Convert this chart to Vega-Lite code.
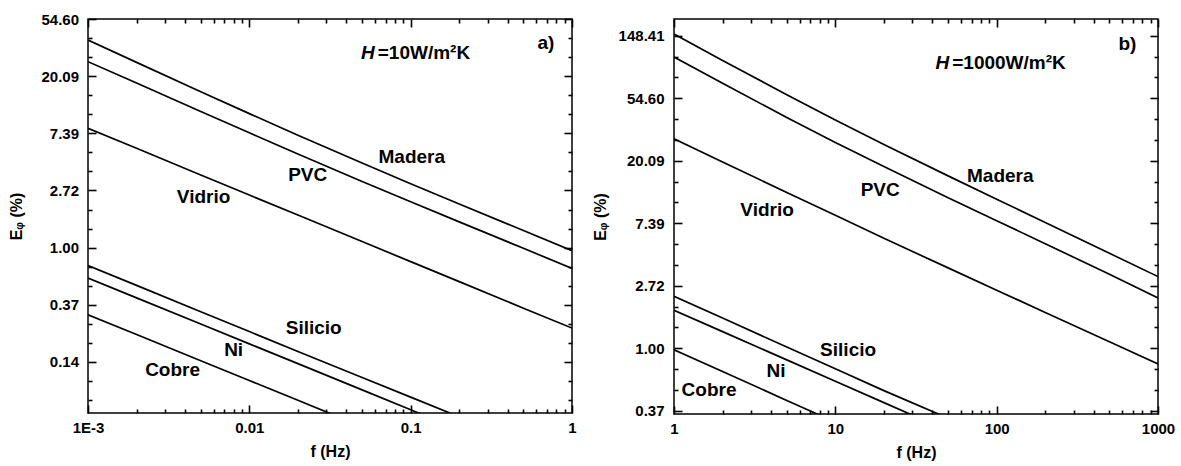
{
  "$schema": "https://vega.github.io/schema/vega-lite/v6.json",
  "padding": {"left": 8, "top": 11, "right": 5, "bottom": 2},
  "spacing": 14,
  "config": {
    "view": {"stroke": "black", "strokeWidth": 1.5},
    "axis": {"grid": false, "domain": false, "tickColor": "black", "tickWidth": 1.6, "labelFont": "Liberation Sans", "labelFontWeight": "bold", "labelFontSize": 15, "labelColor": "black", "titleFont": "Liberation Sans", "titleFontWeight": "bold", "titleFontSize": 16, "titleColor": "black", "labelFlush": false, "labelOverlap": false}
  },
  "datasets": {
    "left": [
      {"material": "Madera", "f": 0.001, "E": 37.8}, {"material": "Madera", "f": 0.002, "E": 25.57}, {"material": "Madera", "f": 0.005, "E": 15.29}, {"material": "Madera", "f": 0.01, "E": 10.43}, {"material": "Madera", "f": 0.02, "E": 7.148}, {"material": "Madera", "f": 0.05, "E": 4.389}, {"material": "Madera", "f": 0.1, "E": 3.061}, {"material": "Madera", "f": 0.2, "E": 2.147}, {"material": "Madera", "f": 0.5, "E": 1.349}, {"material": "Madera", "f": 1, "E": 0.949},
      {"material": "PVC", "f": 0.001, "E": 25.88}, {"material": "PVC", "f": 0.002, "E": 17.83}, {"material": "PVC", "f": 0.005, "E": 10.82}, {"material": "PVC", "f": 0.01, "E": 7.454}, {"material": "PVC", "f": 0.02, "E": 5.146}, {"material": "PVC", "f": 0.05, "E": 3.181}, {"material": "PVC", "f": 0.1, "E": 2.231}, {"material": "PVC", "f": 0.2, "E": 1.57}, {"material": "PVC", "f": 0.5, "E": 0.988}, {"material": "PVC", "f": 1, "E": 0.696},
      {"material": "Vidrio", "f": 0.001, "E": 8.08}, {"material": "Vidrio", "f": 0.002, "E": 5.685}, {"material": "Vidrio", "f": 0.005, "E": 3.564}, {"material": "Vidrio", "f": 0.01, "E": 2.508}, {"material": "Vidrio", "f": 0.02, "E": 1.768}, {"material": "Vidrio", "f": 0.05, "E": 1.112}, {"material": "Vidrio", "f": 0.1, "E": 0.783}, {"material": "Vidrio", "f": 0.2, "E": 0.552}, {"material": "Vidrio", "f": 0.5, "E": 0.3467}, {"material": "Vidrio", "f": 1, "E": 0.2448},
      {"material": "Silicio", "f": 0.001, "E": 0.731}, {"material": "Silicio", "f": 0.002, "E": 0.5164}, {"material": "Silicio", "f": 0.005, "E": 0.3261}, {"material": "Silicio", "f": 0.01, "E": 0.2303}, {"material": "Silicio", "f": 0.02, "E": 0.1623}, {"material": "Silicio", "f": 0.05, "E": 0.103}, {"material": "Silicio", "f": 0.1, "E": 0.0731}, {"material": "Silicio", "f": 0.2, "E": 0.0518},
      {"material": "Ni", "f": 0.001, "E": 0.5867}, {"material": "Ni", "f": 0.002, "E": 0.415}, {"material": "Ni", "f": 0.005, "E": 0.2625}, {"material": "Ni", "f": 0.01, "E": 0.1857}, {"material": "Ni", "f": 0.02, "E": 0.1314}, {"material": "Ni", "f": 0.05, "E": 0.083}, {"material": "Ni", "f": 0.1, "E": 0.0586}, {"material": "Ni", "f": 0.2, "E": 0.0414},
      {"material": "Cobre", "f": 0.001, "E": 0.3089}, {"material": "Cobre", "f": 0.002, "E": 0.2185}, {"material": "Cobre", "f": 0.005, "E": 0.1382}, {"material": "Cobre", "f": 0.01, "E": 0.0978}, {"material": "Cobre", "f": 0.02, "E": 0.0692}, {"material": "Cobre", "f": 0.05, "E": 0.0437}
    ],
    "right": [
      {"material": "Madera", "f": 1, "E": 152.5}, {"material": "Madera", "f": 2, "E": 99.96}, {"material": "Madera", "f": 5, "E": 57.73}, {"material": "Madera", "f": 10, "E": 38.58}, {"material": "Madera", "f": 20, "E": 26.07}, {"material": "Madera", "f": 50, "E": 15.75}, {"material": "Madera", "f": 100, "E": 10.85}, {"material": "Madera", "f": 200, "E": 7.472}, {"material": "Madera", "f": 500, "E": 4.565}, {"material": "Madera", "f": 1000, "E": 3.144},
      {"material": "PVC", "f": 1, "E": 105.5}, {"material": "PVC", "f": 2, "E": 69.2}, {"material": "PVC", "f": 5, "E": 40.1}, {"material": "PVC", "f": 10, "E": 26.92}, {"material": "PVC", "f": 20, "E": 18.28}, {"material": "PVC", "f": 50, "E": 11.11}, {"material": "PVC", "f": 100, "E": 7.69}, {"material": "PVC", "f": 200, "E": 5.323}, {"material": "PVC", "f": 500, "E": 3.262}, {"material": "PVC", "f": 1000, "E": 2.233},
      {"material": "Vidrio", "f": 1, "E": 28.56}, {"material": "Vidrio", "f": 2, "E": 19.67}, {"material": "Vidrio", "f": 5, "E": 12.08}, {"material": "Vidrio", "f": 10, "E": 8.385}, {"material": "Vidrio", "f": 20, "E": 5.803}, {"material": "Vidrio", "f": 50, "E": 3.614}, {"material": "Vidrio", "f": 100, "E": 2.529}, {"material": "Vidrio", "f": 200, "E": 1.773}, {"material": "Vidrio", "f": 500, "E": 1.108}, {"material": "Vidrio", "f": 1000, "E": 0.7766},
      {"material": "Silicio", "f": 1, "E": 2.294}, {"material": "Silicio", "f": 2, "E": 1.619}, {"material": "Silicio", "f": 5, "E": 1.019}, {"material": "Silicio", "f": 10, "E": 0.7192}, {"material": "Silicio", "f": 20, "E": 0.5074}, {"material": "Silicio", "f": 50, "E": 0.3263},
      {"material": "Ni", "f": 1, "E": 1.834}, {"material": "Ni", "f": 2, "E": 1.304}, {"material": "Ni", "f": 5, "E": 0.8293}, {"material": "Ni", "f": 10, "E": 0.5898}, {"material": "Ni", "f": 20, "E": 0.4188}, {"material": "Ni", "f": 50, "E": 0.2663},
      {"material": "Cobre", "f": 1, "E": 0.9763}, {"material": "Cobre", "f": 2, "E": 0.6888}, {"material": "Cobre", "f": 5, "E": 0.4338}, {"material": "Cobre", "f": 10, "E": 0.3061}
    ],
    "leftLabels": [
      {"label": "Madera", "f": 0.1016, "E": 4.891}, {"label": "PVC", "f": 0.02299, "E": 3.571}, {"label": "Vidrio", "f": 0.005206, "E": 2.4305},
      {"label": "Silicio", "f": 0.02506, "E": 0.2461}, {"label": "Ni", "f": 0.007992, "E": 0.1675}, {"label": "Cobre", "f": 0.003344, "E": 0.1181}
    ],
    "rightLabels": [
      {"label": "Madera", "f": 105.3, "E": 15.73}, {"label": "PVC", "f": 18.96, "E": 12.6}, {"label": "Vidrio", "f": 3.775, "E": 9.127},
      {"label": "Silicio", "f": 12.0, "E": 0.9716}, {"label": "Ni", "f": 4.293, "E": 0.6944}, {"label": "Cobre", "f": 1.649, "E": 0.5123}
    ]
  },
  "hconcat": [
    {
      "width": 484, "height": 394,
      "resolve": {"axis": {"x": "independent", "y": "independent"}},
      "layer": [
        {
          "data": {"name": "left"},
          "mark": {"type": "line", "color": "black", "strokeWidth": 1.7, "clip": true},
          "encoding": {
            "x": {"field": "f", "type": "quantitative", "scale": {"type": "log", "domain": [0.001, 1], "nice": false},
              "axis": {"orient": "bottom", "values": [0.001, 0.01, 0.1, 1], "labelExpr": "datum.value < 0.005 ? '1E-3' : datum.value < 0.05 ? '0.01' : datum.value < 0.5 ? '0.1' : '1'", "tickSize": 8, "offset": -8, "labelPadding": 7, "title": "f (Hz)", "titlePadding": 8}},
            "y": {"field": "E", "type": "quantitative", "scale": {"type": "log", "domain": [0.0554, 54.6], "nice": false},
              "axis": {"orient": "left", "values": [0.1353352832, 0.3678794412, 1, 2.718281828, 7.389056099, 20.08553692, 54.59815003], "format": ".2f", "tickSize": 8, "offset": -8, "labelPadding": 9.5, "title": "Eᵩ (%)", "titlePadding": 16}},
            "detail": {"field": "material"}
          }
        },
        {
          "data": {"name": "leftLabels"},
          "mark": {"type": "text", "font": "Liberation Sans", "fontWeight": "bold", "fontSize": 19, "color": "black", "baseline": "middle"},
          "encoding": {
            "x": {"field": "f", "type": "quantitative", "scale": {"type": "log", "domain": [0.001, 1], "nice": false},
              "axis": {"orient": "top", "values": [0.001, 0.01, 0.1, 1], "labels": false, "tickSize": 8, "offset": -8, "title": null}},
            "y": {"field": "E", "type": "quantitative", "scale": {"type": "log", "domain": [0.0554, 54.6], "nice": false},
              "axis": {"orient": "right", "values": [0.1353352832, 0.3678794412, 1, 2.718281828, 7.389056099, 20.08553692, 54.59815003], "labels": false, "tickSize": 8, "offset": -8, "title": null}},
            "text": {"field": "label"}
          }
        },
        {
          "data": {"values": [{"t": "H", "f": 0.0599, "E": 30.13}]},
          "mark": {"type": "text", "font": "Liberation Sans", "fontWeight": "bold", "fontStyle": "italic", "fontSize": 19, "color": "black", "align": "right", "baseline": "middle"},
          "encoding": {
            "x": {"field": "f", "type": "quantitative", "scale": {"type": "log", "domain": [0.001, 1], "nice": false},
              "axis": {"orient": "bottom", "values": [0.002, 0.003, 0.004, 0.005, 0.006, 0.007, 0.008, 0.009, 0.02, 0.03, 0.04, 0.05, 0.06, 0.07, 0.08, 0.09, 0.2, 0.3, 0.4, 0.5, 0.6, 0.7, 0.8, 0.9], "labels": false, "tickSize": 4, "offset": -4, "title": null}},
            "y": {"field": "E", "type": "quantitative", "scale": {"type": "log", "domain": [0.0554, 54.6], "nice": false},
              "axis": {"orient": "left", "values": [0.069483, 0.096972, 0.188876, 0.263597, 0.513417, 0.716531, 1.395612, 1.947734, 3.793668, 5.29449, 10.312259, 14.391916, 28.031624, 39.121284], "labels": false, "tickSize": 4, "offset": -4, "title": null}},
            "text": {"field": "t"}
          }
        },
        {
          "data": {"values": [{"t": "=10W/m²K", "f": 0.0599, "E": 30.13}]},
          "mark": {"type": "text", "font": "Liberation Sans", "fontWeight": "bold", "fontSize": 19, "color": "black", "align": "left", "baseline": "middle", "dx": 3},
          "encoding": {
            "x": {"field": "f", "type": "quantitative", "scale": {"type": "log", "domain": [0.001, 1], "nice": false},
              "axis": {"orient": "top", "values": [0.002, 0.003, 0.004, 0.005, 0.006, 0.007, 0.008, 0.009, 0.02, 0.03, 0.04, 0.05, 0.06, 0.07, 0.08, 0.09, 0.2, 0.3, 0.4, 0.5, 0.6, 0.7, 0.8, 0.9], "labels": false, "tickSize": 4, "offset": -4, "title": null}},
            "y": {"field": "E", "type": "quantitative", "scale": {"type": "log", "domain": [0.0554, 54.6], "nice": false},
              "axis": {"orient": "right", "values": [0.069483, 0.096972, 0.188876, 0.263597, 0.513417, 0.716531, 1.395612, 1.947734, 3.793668, 5.29449, 10.312259, 14.391916, 28.031624, 39.121284], "labels": false, "tickSize": 4, "offset": -4, "title": null}},
            "text": {"field": "t"}
          }
        },
        {
          "data": {"values": [{"t": "a)", "f": 0.689, "E": 35.9}]},
          "mark": {"type": "text", "font": "Liberation Sans", "fontWeight": "bold", "fontSize": 19, "color": "black", "baseline": "middle"},
          "encoding": {
            "x": {"field": "f", "type": "quantitative", "scale": {"type": "log", "domain": [0.001, 1], "nice": false}, "axis": null},
            "y": {"field": "E", "type": "quantitative", "scale": {"type": "log", "domain": [0.0554, 54.6], "nice": false}, "axis": null},
            "text": {"field": "t"}
          }
        }
      ]
    },
    {
      "width": 484, "height": 395,
      "resolve": {"axis": {"x": "independent", "y": "independent"}},
      "layer": [
        {
          "data": {"name": "right"},
          "mark": {"type": "line", "color": "black", "strokeWidth": 1.7, "clip": true},
          "encoding": {
            "x": {"field": "f", "type": "quantitative", "scale": {"type": "log", "domain": [1, 1000], "nice": false},
              "axis": {"orient": "bottom", "values": [1, 10, 100, 1000], "format": "d", "tickSize": 8, "offset": -8, "labelPadding": 7, "title": "f (Hz)", "titlePadding": 8}},
            "y": {"field": "E", "type": "quantitative", "scale": {"type": "log", "domain": [0.349, 193.8], "nice": false},
              "axis": {"orient": "left", "values": [0.3678794412, 1, 2.718281828, 7.389056099, 20.08553692, 54.59815003, 148.4131591], "format": ".2f", "tickSize": 8, "offset": -8, "labelPadding": 10, "title": "Eᵩ (%)", "titlePadding": 10}},
            "detail": {"field": "material"}
          }
        },
        {
          "data": {"name": "rightLabels"},
          "mark": {"type": "text", "font": "Liberation Sans", "fontWeight": "bold", "fontSize": 19, "color": "black", "baseline": "middle"},
          "encoding": {
            "x": {"field": "f", "type": "quantitative", "scale": {"type": "log", "domain": [1, 1000], "nice": false},
              "axis": {"orient": "top", "values": [1, 10, 100, 1000], "labels": false, "tickSize": 8, "offset": -8, "title": null}},
            "y": {"field": "E", "type": "quantitative", "scale": {"type": "log", "domain": [0.349, 193.8], "nice": false},
              "axis": {"orient": "right", "values": [0.3678794412, 1, 2.718281828, 7.389056099, 20.08553692, 54.59815003, 148.4131591], "labels": false, "tickSize": 8, "offset": -8, "title": null}},
            "text": {"field": "label"}
          }
        },
        {
          "data": {"values": [{"t": "H", "f": 50.8, "E": 95.9}]},
          "mark": {"type": "text", "font": "Liberation Sans", "fontWeight": "bold", "fontStyle": "italic", "fontSize": 19, "color": "black", "align": "right", "baseline": "middle"},
          "encoding": {
            "x": {"field": "f", "type": "quantitative", "scale": {"type": "log", "domain": [1, 1000], "nice": false},
              "axis": {"orient": "bottom", "values": [2, 3, 4, 5, 6, 7, 8, 9, 20, 30, 40, 50, 60, 70, 80, 90, 200, 300, 400, 500, 600, 700, 800, 900], "labels": false, "tickSize": 4, "offset": -4, "title": null}},
            "y": {"field": "E", "type": "quantitative", "scale": {"type": "log", "domain": [0.349, 193.8], "nice": false},
              "axis": {"orient": "left", "values": [0.513417, 0.716531, 1.395612, 1.947734, 3.793668, 5.29449, 10.312259, 14.391916, 28.031624, 39.121284, 76.19785, 106.3426], "labels": false, "tickSize": 4, "offset": -4, "title": null}},
            "text": {"field": "t"}
          }
        },
        {
          "data": {"values": [{"t": "=1000W/m²K", "f": 50.8, "E": 95.9}]},
          "mark": {"type": "text", "font": "Liberation Sans", "fontWeight": "bold", "fontSize": 19, "color": "black", "align": "left", "baseline": "middle", "dx": 3},
          "encoding": {
            "x": {"field": "f", "type": "quantitative", "scale": {"type": "log", "domain": [1, 1000], "nice": false},
              "axis": {"orient": "top", "values": [2, 3, 4, 5, 6, 7, 8, 9, 20, 30, 40, 50, 60, 70, 80, 90, 200, 300, 400, 500, 600, 700, 800, 900], "labels": false, "tickSize": 4, "offset": -4, "title": null}},
            "y": {"field": "E", "type": "quantitative", "scale": {"type": "log", "domain": [0.349, 193.8], "nice": false},
              "axis": {"orient": "right", "values": [0.513417, 0.716531, 1.395612, 1.947734, 3.793668, 5.29449, 10.312259, 14.391916, 28.031624, 39.121284, 76.19785, 106.3426], "labels": false, "tickSize": 4, "offset": -4, "title": null}},
            "text": {"field": "t"}
          }
        },
        {
          "data": {"values": [{"t": "b)", "f": 646, "E": 129.97}]},
          "mark": {"type": "text", "font": "Liberation Sans", "fontWeight": "bold", "fontSize": 19, "color": "black", "baseline": "middle"},
          "encoding": {
            "x": {"field": "f", "type": "quantitative", "scale": {"type": "log", "domain": [1, 1000], "nice": false}, "axis": null},
            "y": {"field": "E", "type": "quantitative", "scale": {"type": "log", "domain": [0.349, 193.8], "nice": false}, "axis": null},
            "text": {"field": "t"}
          }
        }
      ]
    }
  ]
}
